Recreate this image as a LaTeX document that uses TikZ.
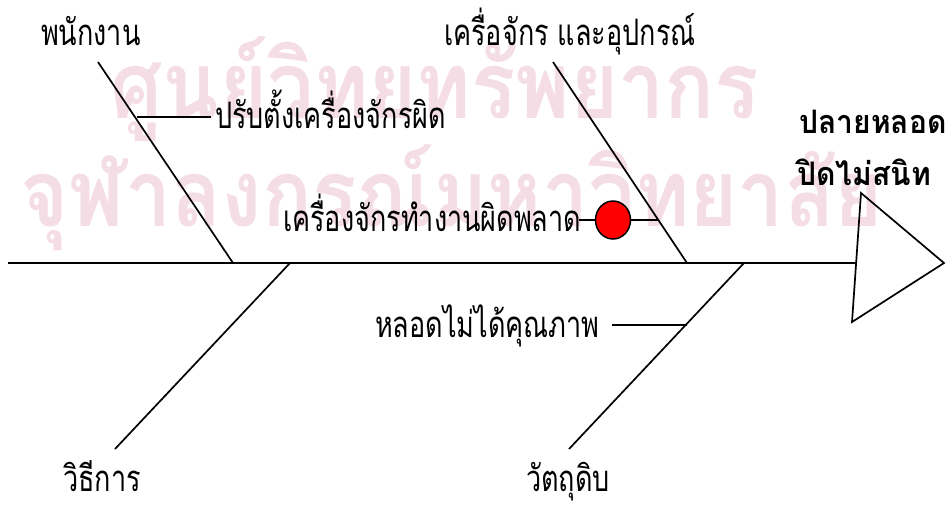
\documentclass[tikz,border=0pt]{standalone}
\usepackage{graphicx}
\usepackage{fontspec}
\usetikzlibrary{shapes.geometric}
\newfontfamily\thai[Script=Thai]{Loma}
\definecolor{wmpink}{RGB}{245,221,230}
\definecolor{fishred}{RGB}{255,0,0}
\newcommand{\tall}[1]{\scalebox{1}[1.35]{#1}}
\newcommand{\headtall}[1]{\scalebox{1}[1.08]{#1}}
\newcommand{\wmtall}[1]{\scalebox{1.02}[1.15]{#1}}
\begin{document}
\begin{tikzpicture}[x=1pt,y=-1pt,
  spine/.style={line width=2.6pt},
  bone/.style={line width=1.7pt},
  lbl/.style={font=\thai\fontsize{27}{30}\selectfont, inner sep=0pt, anchor=base west},
  head/.style={font=\thai\bfseries\fontsize{30}{34}\selectfont, inner sep=0pt, anchor=base west},
  wm/.style={font=\thai\bfseries\fontsize{81}{90}\selectfont, text=wmpink, inner sep=0pt, anchor=base west}]
\fill[white] (0,0) rectangle (952,507);
\useasboundingbox (0,0) rectangle (952,507);
% watermark
\node[wm] (wm1) at (110,118) {\wmtall{ศูนย์วิทยทรัพยากร}};
\node[wm] (wm2) at (20,226) {\wmtall{จุฬาลงกรณ์มหาวิทยาลัย}};
% spine and head
\coordinate (sL) at (8,263);
\coordinate (sR) at (856,263);
\coordinate (hT) at (861,193);
\coordinate (hR) at (944,263);
\coordinate (hB) at (852,322);
\draw[spine] (sL) -- (sR);
\draw[bone, line join=miter] (hT) -- (hR) -- (hB) -- cycle;
% bones
\coordinate (b1t) at (98,62);  \coordinate (b1b) at (233,263);
\coordinate (b2t) at (553,62); \coordinate (b2b) at (687,263);
\coordinate (b3t) at (290,263); \coordinate (b3b) at (115,449);
\coordinate (b4t) at (744,263); \coordinate (b4b) at (569,449);
\draw[bone] (b1t) -- (b1b);
\draw[bone] (b2t) -- (b2b);
\draw[bone] (b3t) -- (b3b);
\draw[bone] (b4t) -- (b4b);
% labels
\node[lbl] (l1) at (41,45) {\tall{พนักงาน}};
\node[lbl] (l2) at (444,45) {\tall{เครื่อจักร และอุปกรณ์}};
\node[lbl] (l3) at (63,491) {\tall{วิธีการ}};
\node[lbl] (l4) at (526,491) {\tall{วัตถุดิบ}};
\node[head] (h1) at (799,133) {\headtall{ปลายหลอด}};
\node[head] (h2) at (797,185) {\headtall{ปิดไม่สนิท}};
% causes
\node[lbl] (c1) at (215,128) {\tall{ปรับตั้งเครื่องจักรผิด}};
\coordinate (c1b) at (137,117);
\draw[bone] (c1b) -- (211,117);
\node[lbl] (c2) at (283,231) {\tall{เครื่องจักรทำงานผิดพลาด}};
\node[draw, fill=fishred, ellipse, minimum width=35pt, minimum height=38pt, inner sep=0pt, line width=1.5pt] (dot) at (613,220) {};
\coordinate (c2a) at (579,220);
\coordinate (c2b) at (658,220);
\draw[bone] (c2a) -- (dot.west);
\draw[bone] (dot.east) -- (c2b);
\node[lbl] (c3) at (375,337) {\tall{หลอดไม่ได้คุณภาพ}};
\coordinate (c3a) at (612,325);
\coordinate (c3b) at (687,325);
\draw[bone] (c3a) -- (c3b);
\end{tikzpicture}
\end{document}
